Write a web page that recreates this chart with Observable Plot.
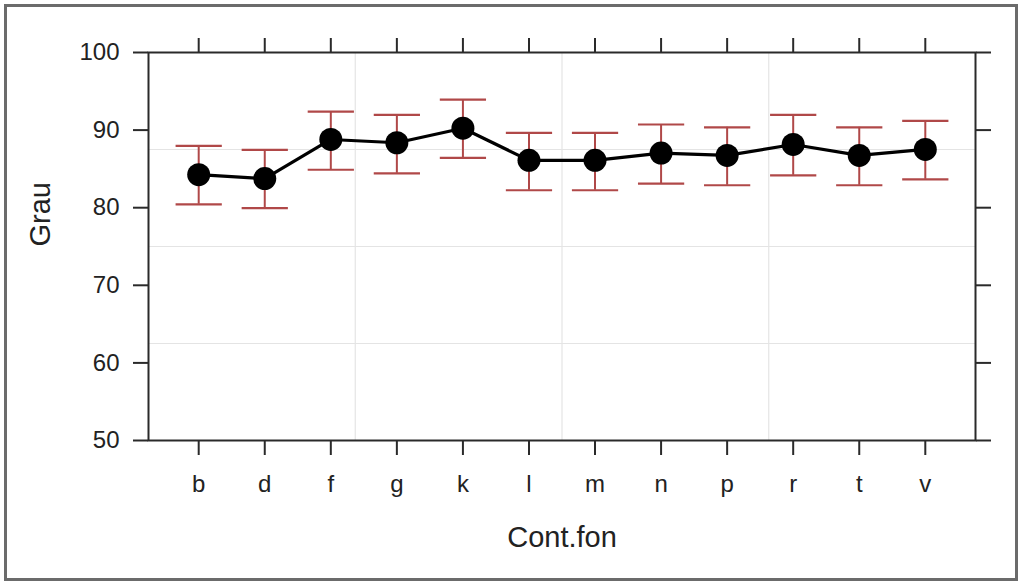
<!DOCTYPE html>
<html>
<head>
<meta charset="utf-8">
<script src="https://cdn.jsdelivr.net/npm/d3@7"></script>
<script src="https://cdn.jsdelivr.net/npm/@observablehq/plot@0.6"></script>
<style>
  html, body { margin: 0; padding: 0; background: #fff; }
  #wrap { position: relative; width: 1024px; height: 586px; overflow: hidden; }
  #border { position: absolute; left: 4px; top: 4px; width: 1008px; height: 571px; border: 3px solid #6b6b6b; pointer-events: none; }
</style>
</head>
<body>
<div id="wrap"><div id="border"></div></div>
<script>
const categories = ["b", "d", "f", "g", "k", "l", "m", "n", "p", "r", "t", "v"];
const fitValues  = [84.26, 83.75, 88.79, 88.37, 90.24, 86.10, 86.10, 87.04, 86.74, 88.15, 86.74, 87.51];
const upperValues = [87.97, 87.45, 92.39, 91.96, 93.93, 89.65, 89.65, 90.72, 90.36, 91.96, 90.36, 91.18];
const lowerValues = [80.44, 79.94, 84.89, 84.43, 86.43, 82.25, 82.25, 83.11, 82.89, 84.17, 82.89, 83.66];
const yTicks = [50, 60, 70, 80, 90, 100];
const gridYValues = [62.5, 75, 87.5];
const gridXFractions = [0.25, 0.5, 0.75];
const xTitle = "Cont.fon";
const yTitle = "Grau";

const data = categories.map((c, i) => ({cat: c, i, fit: fitValues[i], upper: upperValues[i], lower: lowerValues[i]}));
const pad = 0.76;
const xDomain = [-pad, categories.length - 1 + pad];
const gridX = gridXFractions.map(f => xDomain[0] + f * (xDomain[1] - xDomain[0]));
const capHalf = 0.35;
const idx = categories.map((c, i) => i);
const font = "Liberation Sans, Arial, sans-serif";
const errColor = "#b04848";
const axisColor = "#2a2a2a";

const chart = Plot.plot({
  width: 1024,
  height: 586,
  marginLeft: 148,
  marginRight: 49,
  marginTop: 52,
  marginBottom: 146,
  style: {fontFamily: font, background: "transparent", color: "#222"},
  x: {type: "linear", domain: xDomain},
  y: {domain: [50, 100]},
  marks: [
    Plot.ruleY(gridYValues, {stroke: "#e4e4e4", strokeWidth: 1.2}),
    Plot.ruleX(gridX, {stroke: "#e4e4e4", strokeWidth: 1.2}),
    Plot.axisY({anchor: "left", ticks: yTicks, tickSize: 15, tickPadding: 14, fontSize: 24, strokeWidth: 2, stroke: axisColor, label: null}),
    Plot.axisY({anchor: "right", ticks: yTicks, tickSize: 15, tickFormat: () => "", strokeWidth: 2, stroke: axisColor, label: null}),
    Plot.axisX({anchor: "top", ticks: idx, tickSize: 15, tickFormat: () => "", strokeWidth: 2, stroke: axisColor, label: null}),
    Plot.axisX({anchor: "bottom", ticks: idx, tickSize: 15, tickPadding: 19, fontSize: 24, tickFormat: i => categories[i], strokeWidth: 2, stroke: axisColor, label: null}),
    Plot.frame({stroke: axisColor, strokeWidth: 2}),
    Plot.ruleX(data, {x: "i", y1: "lower", y2: "upper", stroke: errColor, strokeWidth: 2}),
    Plot.link(data, {x1: d => d.i - capHalf, x2: d => d.i + capHalf, y1: "upper", y2: "upper", stroke: errColor, strokeWidth: 2.2}),
    Plot.link(data, {x1: d => d.i - capHalf, x2: d => d.i + capHalf, y1: "lower", y2: "lower", stroke: errColor, strokeWidth: 2.2}),
    Plot.line(data, {x: "i", y: "fit", stroke: "#000", strokeWidth: 3.2}),
    Plot.dot(data, {x: "i", y: "fit", r: 11.5, fill: "#000", stroke: "none"}),
    Plot.text([xTitle], {frameAnchor: "bottom", dy: 97, text: d => d, fontSize: 29, fill: "#222", lineAnchor: "middle"}),
    Plot.text([yTitle], {frameAnchor: "left", dx: -108, text: d => d, fontSize: 29, fill: "#222", rotate: -90, lineAnchor: "middle"})
  ]
});
document.getElementById("wrap").insertBefore(chart, document.getElementById("border"));
</script>
</body>
</html>
